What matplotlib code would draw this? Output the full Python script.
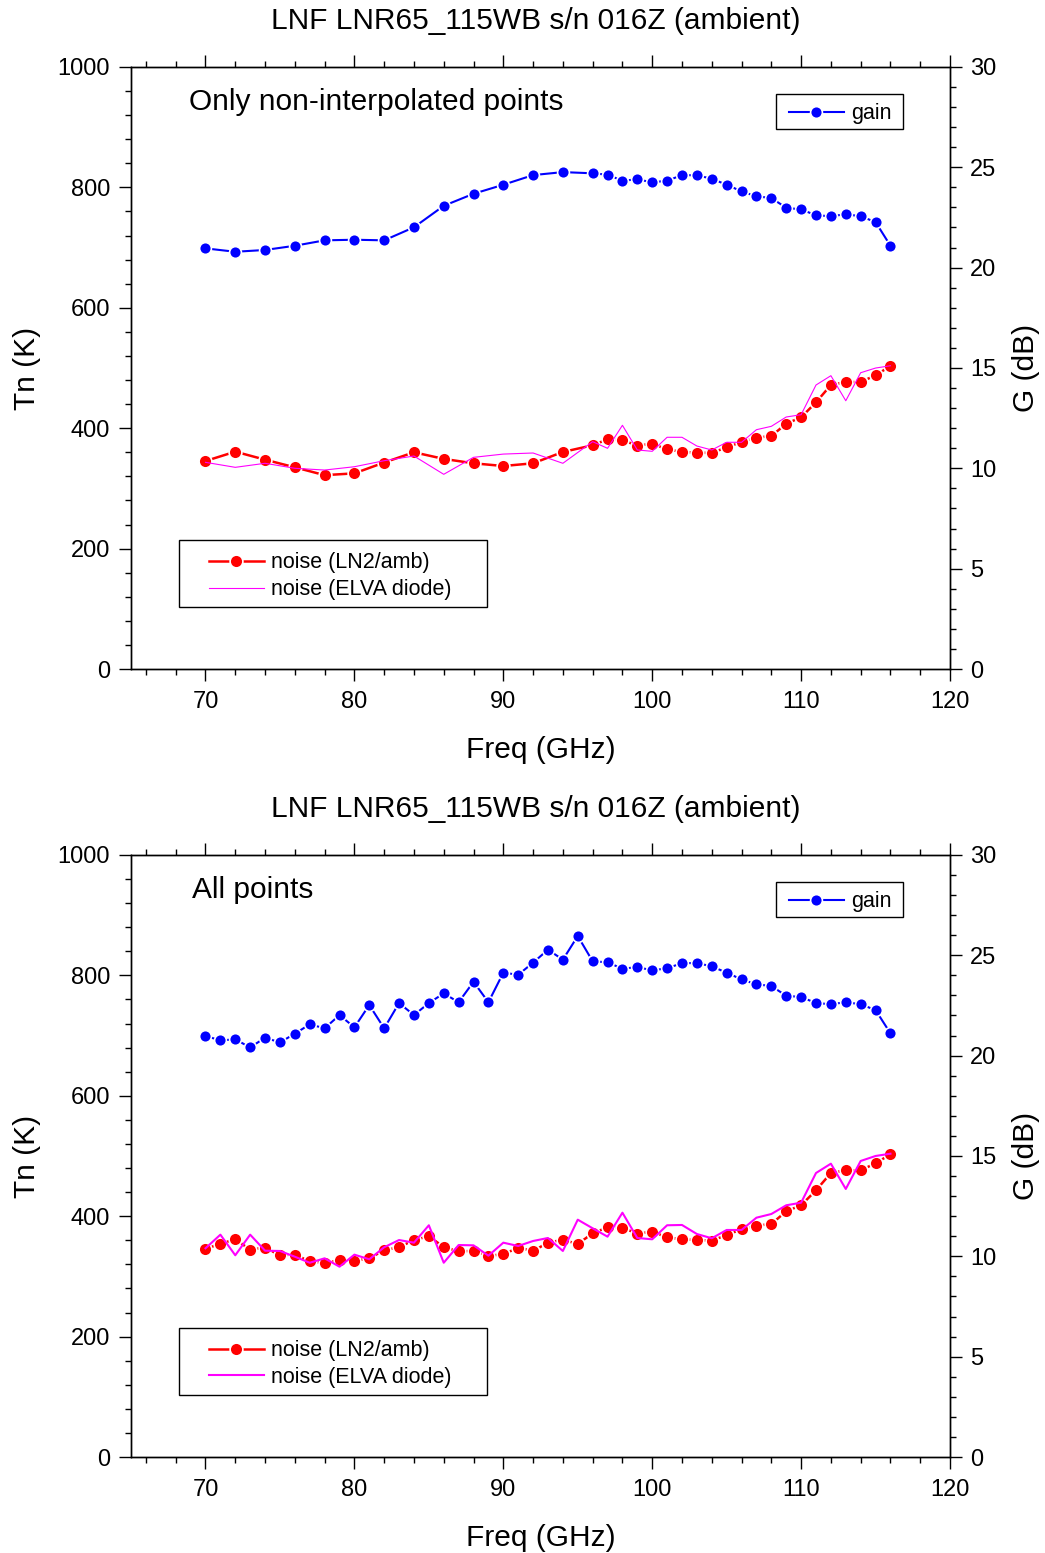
import numpy as np
import matplotlib.pyplot as plt
from matplotlib.ticker import MultipleLocator
from matplotlib.patches import Rectangle

plt.rcParams['font.family'] = ['Liberation Sans', 'DejaVu Sans']

TITLE = "LNF LNR65_115WB s/n 016Z (ambient)"

# ---- top panel: only non-interpolated points ----
freq_top = [70, 72, 74, 76, 78, 80, 82, 84, 86, 88, 90, 92, 94,
            96, 97, 98, 99, 100, 101, 102, 103, 104, 105, 106,
            107, 108, 109, 110, 111, 112, 113, 114, 115, 116]
gain_top = [20.96, 20.79, 20.88, 21.09, 21.36, 21.39, 21.36, 22.01, 23.08, 23.68, 24.13, 24.61, 24.76,
            24.70, 24.63, 24.33, 24.40, 24.25, 24.33, 24.61, 24.60, 24.43, 24.13, 23.80,
            23.55, 23.47, 22.98, 22.90, 22.61, 22.56, 22.66, 22.56, 22.27, 21.09]
noise_top = [345.5, 361.0, 347.7, 335.0, 322.0, 325.0, 343.0, 360.0, 349.0, 341.7, 337.2, 341.7, 360.5,
             371.6, 381.5, 380.4, 370.9, 374.2, 364.9, 360.5, 359.3, 358.8, 368.3, 377.0,
             384.2, 387.0, 407.4, 418.0, 443.0, 471.7, 476.7, 476.7, 487.8, 503.3]
elva_top = [343.3, 335.0, 341.7, 333.4, 330.5, 336.0, 346.0, 353.8, 323.4, 351.6, 357.0, 358.8, 341.7,
            377.6, 366.6, 404.8, 363.8, 361.6, 384.9, 384.9, 370.4, 363.8, 376.6, 376.6,
            397.5, 403.1, 418.6, 422.4, 471.7, 487.2, 445.6, 492.1, 499.9, 503.7]

# ---- bottom panel: all points (1 GHz step) ----
freq_all = list(range(70, 117))
gain_all = [20.98, 20.76, 20.81, 20.41, 20.89, 20.66, 21.09, 21.56, 21.36, 22.02, 21.41, 22.52, 21.36,
            22.62, 22.02, 22.62, 23.10, 22.66, 23.68, 22.66, 24.13, 24.03, 24.63, 25.28, 24.78,
            25.96, 24.70, 24.65, 24.33, 24.41, 24.25, 24.35, 24.61, 24.61, 24.45, 24.13,
            23.80, 23.55, 23.47, 22.98, 22.92, 22.62, 22.56, 22.66, 22.56, 22.27, 21.11]
noise_all = [345.5, 354.3, 361.6, 344.4, 347.7, 335.1, 336.1, 325.1, 322.3, 326.8, 325.6, 330.1, 343.4,
             348.4, 360.4, 366.6, 348.8, 341.7, 342.2, 334.4, 336.6, 347.7, 342.2, 356.0, 360.9,
             353.8, 371.6, 381.5, 380.9, 370.9, 374.2, 364.9, 361.6, 360.4, 359.3, 368.7,
             378.2, 384.2, 387.0, 408.1, 418.1, 443.0, 471.7, 476.2, 476.2, 487.8, 502.8]
elva_all = [346.7, 369.3, 335.1, 369.3, 342.7, 342.2, 332.7, 322.7, 330.0, 316.1, 336.1, 328.4, 348.4,
            360.4, 356.0, 384.9, 322.7, 352.1, 351.6, 334.4, 356.0, 350.5, 358.8, 363.8, 342.2,
            394.2, 379.9, 366.0, 405.8, 363.8, 361.6, 384.9, 385.4, 370.4, 363.3, 377.1,
            377.1, 397.5, 403.6, 418.1, 422.4, 471.7, 487.2, 445.2, 491.7, 500.0, 503.8]

LABEL_FS = 21.5
TICK_FS = 17
LEG_FS = 15.5


def style_axes(ax, ax2):
    # Origin-like frame: ticks out on every side
    ax.set_xlim(65, 120)
    ax.set_ylim(0, 1000)
    ax2.set_ylim(0, 30)
    ax.xaxis.set_major_locator(MultipleLocator(10))
    ax.xaxis.set_minor_locator(MultipleLocator(2))
    ax.yaxis.set_major_locator(MultipleLocator(200))
    ax.yaxis.set_minor_locator(MultipleLocator(40))
    ax2.yaxis.set_major_locator(MultipleLocator(5))
    ax2.yaxis.set_minor_locator(MultipleLocator(1))
    ax.set_xticks([70, 80, 90, 100, 110, 120])
    ax.tick_params(axis='x', which='both', direction='out', top=True, bottom=True,
                   labelsize=TICK_FS, pad=7)
    ax.tick_params(axis='y', which='both', direction='out', left=True, right=False,
                   labelsize=TICK_FS, pad=6.5)
    ax2.tick_params(axis='y', which='both', direction='out', labelsize=TICK_FS, pad=6)
    for a in (ax, ax2):
        a.tick_params(which='major', length=8.6, width=1.0)
        a.tick_params(which='minor', length=4.3, width=1.0)
        for sp in a.spines.values():
            sp.set_linewidth(1.0)
    ax.set_xlabel("Freq (GHz)", fontsize=LABEL_FS, labelpad=17)
    ax.set_ylabel("Tn (K)", fontsize=LABEL_FS, labelpad=12)
    ax2.set_ylabel("G (dB)", fontsize=LABEL_FS, labelpad=11)


def draw_panel(ax, freq, gain, noise, elva, note, note_x, elva_lw):
    ax2 = ax.twinx()
    style_axes(ax, ax2)

    # noise curves on the left axis
    ln_noise, = ax.plot(freq, noise, color='red', lw=1.8, marker='o', ms=9.2,
                        mfc='red', mec='white', mew=1.2, label="noise (LN2/amb)", zorder=3)
    ln_elva, = ax.plot(freq, elva, color='#FF00FF', lw=elva_lw, label="noise (ELVA diode)",
                       zorder=4)
    # gain on the right axis
    ln_gain, = ax2.plot(freq, gain, color='blue', lw=1.5, marker='o', ms=8.5,
                        mfc='blue', mec='white', mew=1.2, label="gain", zorder=3)

    ax.text(note_x, 0.942, note, transform=ax.transAxes, fontsize=LABEL_FS,
            ha='left', va='center')

    # legends (frames drawn separately as plain rectangles)
    ax.legend(handles=[ln_noise, ln_elva], loc='upper left',
              bbox_to_anchor=(0.0952, 0.194), frameon=False, fontsize=LEG_FS,
              borderpad=0, borderaxespad=0, handlelength=2.55, handletextpad=0.32,
              labelspacing=0.27, numpoints=1)
    ax.add_patch(Rectangle((0.0586, 0.103), 0.376, 0.111, transform=ax.transAxes,
                           fill=False, ec='black', lw=1.0, zorder=5))
    ax2.legend(handles=[ln_gain], loc='upper left',
               bbox_to_anchor=(0.8034, 0.940), frameon=False, fontsize=LEG_FS,
               borderpad=0, borderaxespad=0, handlelength=2.55, handletextpad=0.32,
               numpoints=1)
    ax2.add_patch(Rectangle((0.7875, 0.897), 0.155, 0.058, transform=ax2.transAxes,
                            fill=False, ec='black', lw=1.0, zorder=5))
    return ax2


fig = plt.figure(figsize=(10.45, 15.53), dpi=100)
ax_top = fig.add_axes([0.1254, 0.5692, 0.7837, 0.3877])
ax_bot = fig.add_axes([0.1254, 0.0618, 0.7837, 0.3877])

draw_panel(ax_top, freq_top, gain_top, noise_top, elva_top,
           "Only non-interpolated points", 0.0708, 0.8)
draw_panel(ax_bot, freq_all, gain_all, noise_all, elva_all, "All points", 0.0745, 1.5)

fig.text(0.5124, 0.9863, TITLE, fontsize=LABEL_FS, ha='center', va='center')
fig.text(0.5124, 0.4790, TITLE, fontsize=LABEL_FS, ha='center', va='center')

fig.savefig("out.png", dpi=100)
